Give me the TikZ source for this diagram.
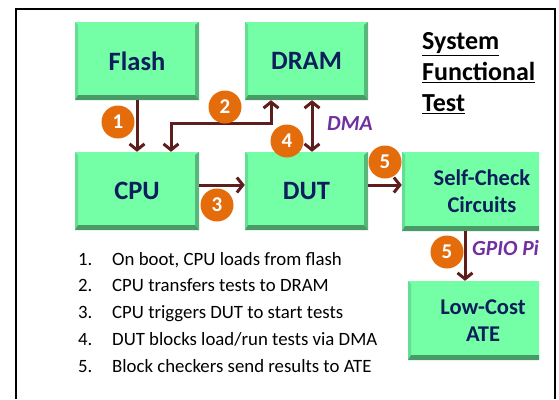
\documentclass[tikz,border=0pt]{standalone}
\usepackage{fontspec}
\setmainfont{Carlito}
\usetikzlibrary{arrows.meta,positioning,calc}
\definecolor{face}{RGB}{116,255,166}
\definecolor{bevdark}{RGB}{74,154,104}
\definecolor{bevmid}{RGB}{88,184,124}
\definecolor{bevlight}{RGB}{100,222,148}
\definecolor{navy}{RGB}{12,30,91}
\definecolor{maroon}{RGB}{95,30,30}
\definecolor{badge}{RGB}{228,108,10}
\definecolor{note}{RGB}{112,48,160}
\begin{document}
\begin{tikzpicture}[x=1pt,y=-1pt,
  blk/.style={fill=face, minimum width=124pt, minimum height=78pt, inner sep=0pt,
    align=center, text=navy, font=\fontsize{26.5}{27}\selectfont\bfseries,
    path picture={
      \fill[bevlight] (path picture bounding box.south west) -- (path picture bounding box.north west)
        -- ([shift={(3pt,-3pt)}]path picture bounding box.north west)
        -- ([shift={(3pt,5pt)}]path picture bounding box.south west) -- cycle;
      \fill[bevmid] (path picture bounding box.south east) -- (path picture bounding box.north east)
        -- ([shift={(-4pt,-3pt)}]path picture bounding box.north east)
        -- ([shift={(-4pt,5pt)}]path picture bounding box.south east) -- cycle;
      \fill[bevdark] (path picture bounding box.south west) -- (path picture bounding box.south east)
        -- ([shift={(-4pt,5pt)}]path picture bounding box.south east)
        -- ([shift={(3pt,5pt)}]path picture bounding box.south west) -- cycle;
    }},
  wide/.style={blk, minimum height=79pt, font=\fontsize{22.5}{27}\selectfont\bfseries},
  flow/.style={draw=maroon, line width=3pt, -{Straight Barb[length=6pt,width=15pt]}},
  num/.style={circle, fill=badge, text=white, minimum size=33pt, inner sep=0pt,
    font=\fontsize{21}{21}\selectfont\bfseries},
  bus/.style={text=note, font=\fontsize{21.5}{22}\selectfont\bfseries\itshape},
  item/.style={anchor=base west, inner sep=0pt, font=\fontsize{18.8}{20}\selectfont}]
  \useasboundingbox (0,0) rectangle (559,399);
  \fill[white] (0,0) rectangle (559,399);
  \draw[line width=1.5pt] (16,399) -- (16,9) -- (555,9) -- (555,399);

  \node[blk] (flash) at (137,61) {Flash};
  \node[blk, minimum width=123pt] (dram) at (306.5,61) {DRAM};
  \node[blk] (cpu) at (137,191) {CPU};
  \node[blk, minimum width=123pt] (dut) at (306.5,191) {DUT};
  \begin{scope}
    \clip (0,0) rectangle (539,399);
    \node[wide, minimum width=160pt] (chk) at (482,191.5) {Self-Check\\Circuits};
    \node[wide, minimum width=150pt] (ate) at (483,320.5) {Low-Cost\\ATE};
    \node[bus, anchor=west, inner sep=0pt] (gpio) at (472,248) {GPIO Pi};
  \end{scope}

  \node[anchor=north west, inner sep=0pt, align=left, font=\fontsize{26}{31}\selectfont\bfseries]
    (title) at (422,32) {\underline{System}\\\underline{Functional}\\\underline{Test}};

  \draw[flow] (flash.south) -- (cpu.north);
  \draw[flow, {Straight Barb[length=6pt,width=15pt]}-{Straight Barb[length=6pt,width=15pt]}]
    ([xshift=34pt]cpu.north) -- ++(0,-28) -| ([xshift=-35.5pt]dram.south);
  \draw[flow, {Straight Barb[length=6pt,width=15pt]}-{Straight Barb[length=6pt,width=15pt]}]
    ([xshift=5.5pt]dram.south) -- ([xshift=5.5pt]dut.north);
  \node[bus, anchor=west, inner sep=0pt] (dma) at (327,124) {DMA};
  \draw[flow] ([yshift=6pt]cpu.east) -- ([yshift=6pt]dut.west);
  \draw[flow] ([yshift=6pt]dut.east) -- ([yshift=6pt]dut.east -| chk.west);
  \draw[flow] ([xshift=-17pt]chk.south) -- ([xshift=-17pt]chk.south |- ate.north);

  \node[num] (n1) at (118,122) {1};
  \node[num] (n2) at (225,107) {2};
  \node[num] (n3) at (217,205) {3};
  \node[num] (n4) at (287,141) {4};
  \node[num] (n5a) at (385,162) {5};
  \node[num] (n5b) at (447,252) {5};

  \foreach \t [count=\i] in {{On boot, CPU loads from flash}, {CPU transfers tests to DRAM},
      {CPU triggers DUT to start tests}, {DUT blocks load/run tests via DMA},
      {Block checkers send results to ATE}} {
    \node[item] (k\i) at (78,265+26.8*\i-26.8) {\i.};
    \node[item] (s\i) at (112,265+26.8*\i-26.8) {\t};
  }
\end{tikzpicture}
\end{document}
